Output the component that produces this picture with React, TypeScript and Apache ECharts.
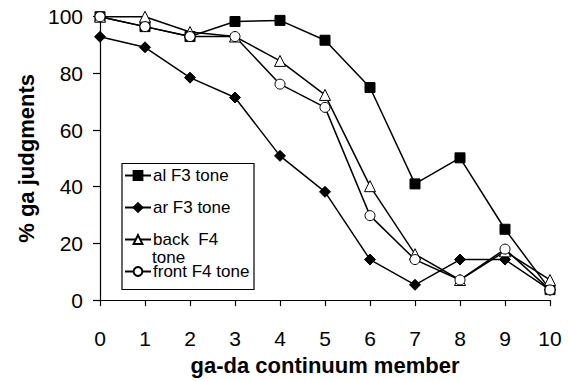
import React, { useEffect, useRef } from "react";
import * as echarts from "echarts";

const categories = ["0", "1", "2", "3", "4", "5", "6", "7", "8", "9", "10"];
const alF3 = [100, 96.5, 93, 98.3, 98.7, 91.7, 75, 41, 50.2, 25, 3.7];
const arF3 = [92.9, 89.2, 78.5, 71.5, 50.9, 38.2, 14.3, 5.4, 14.3, 14.3, 3.6];
const backF4 = [100, 100, 94.6, 93, 84.4, 72.4, 40.2, 16.2, 7.1, 17.2, 7.1];
const frontF4 = [100, 96.5, 93, 93, 76.2, 68, 29.8, 14.3, 7.1, 18, 3.6];
const seriesNames = ["al F3 tone", "ar F3 tone", "back  F4 tone", "front F4 tone"];
const yTicks = [0, 20, 40, 60, 80, 100];

const FONT = "'Liberation Sans', Arial, Helvetica, sans-serif";

export default function App() {
  const ref = useRef<HTMLDivElement>(null);
  useEffect(() => {
    if (!ref.current) return;
    document.body.style.margin = "0";
    const chart = echarts.init(ref.current, undefined, { renderer: "svg" });
    const lineStyle = { color: "#000", width: 1.5 };
    const mk = (
      name: string,
      data: number[],
      symbol: string,
      fill: string,
      size: number
    ) => ({
      name,
      type: "line",
      data,
      symbol,
      symbolSize: size,
      showAllSymbol: true,
      lineStyle,
      itemStyle: { color: fill, borderColor: "#000", borderWidth: 1 },
      z: 2,
    });
    chart.setOption({
      animation: false,
      textStyle: { fontFamily: FONT },
      grid: { left: 100, right: 18, top: 16.7, bottom: 74.3, containLabel: false },
      xAxis: {
        type: "category",
        data: categories,
        boundaryGap: false,
        axisLine: { lineStyle: { color: "#000", width: 1.2 } },
        axisTick: { show: true, length: 6, alignWithLabel: true, lineStyle: { color: "#000", width: 1.2 } },
        axisLabel: { color: "#000", fontSize: 21, margin: 28, fontFamily: FONT },
        name: "ga-da continuum member",
        nameLocation: "middle",
        nameGap: 49,
        nameTextStyle: { color: "#000", fontSize: 22, fontWeight: "bold", fontFamily: FONT },
        splitLine: { show: false },
      },
      yAxis: {
        type: "value",
        min: yTicks[0],
        max: yTicks[yTicks.length - 1],
        interval: 20,
        axisLine: { show: true, lineStyle: { color: "#000", width: 1.2 } },
        axisTick: { show: true, length: 7, lineStyle: { color: "#000", width: 1.2 } },
        axisLabel: { color: "#000", fontSize: 21, margin: 17, fontFamily: FONT },
        splitLine: { show: false },
        name: "% ga judgments",
        nameLocation: "middle",
        nameGap: 63,
        nameTextStyle: { color: "#000", fontSize: 22, fontWeight: "bold", fontFamily: FONT },
      },
      legend: {
        orient: "vertical",
        left: 124,
        top: 167,
        padding: 0,
        itemGap: 15,
        itemWidth: 26,
        itemHeight: 11,
        data: seriesNames,
        formatter: (n: string) => (n === "back  F4 tone" ? "back  F4" : n),
        textStyle: { color: "#000", fontSize: 17, fontFamily: FONT, padding: [0, 0, 0, -3] },
      },
      graphic: [
        {
          type: "rect",
          shape: { x: 122, y: 163.5, width: 132, height: 126 },
          style: { fill: "none", stroke: "#000", lineWidth: 1.2 },
          z: 10,
        },
        {
          type: "text",
          x: 152,
          y: 257,
          style: { text: "tone", fill: "#000", fontSize: 17, fontFamily: FONT, verticalAlign: "middle" },
          z: 10,
        },
      ],
      series: [
        mk(seriesNames[0], alF3, "rect", "#000", 10),
        mk(seriesNames[1], arF3, "diamond", "#000", 11),
        mk(seriesNames[2], backF4, "triangle", "#fff", 11),
        mk(seriesNames[3], frontF4, "circle", "#fff", 10),
      ],
    });
    return () => chart.dispose();
  }, []);
  return <div ref={ref} style={{ width: 568, height: 381 }} />;
}
